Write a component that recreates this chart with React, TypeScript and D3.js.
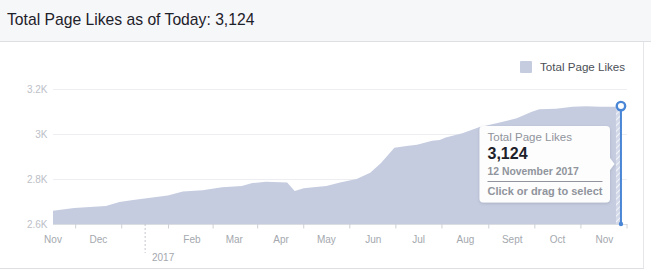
import React from "react";
import * as d3 from "d3";

const dates = [
  "2016-11-01", "2016-11-15", "2016-12-06", "2016-12-15", "2016-12-24",
  "2017-01-02", "2017-01-16", "2017-01-26", "2017-02-08", "2017-02-21",
  "2017-03-06", "2017-03-13", "2017-03-22", "2017-04-05", "2017-04-10",
  "2017-04-16", "2017-04-24", "2017-05-01", "2017-05-10", "2017-05-21",
  "2017-05-30", "2017-06-06", "2017-06-15", "2017-06-23", "2017-06-30",
  "2017-07-10", "2017-07-15", "2017-07-19", "2017-07-30", "2017-08-10",
  "2017-08-23", "2017-09-04", "2017-09-14", "2017-09-19", "2017-09-30",
  "2017-10-11", "2017-10-20", "2017-10-29", "2017-11-09", "2017-11-12",
];
const likes = [
  2659, 2671, 2680, 2698, 2707,
  2714, 2727, 2745, 2750, 2763,
  2769, 2782, 2788, 2785, 2747,
  2759, 2764, 2769, 2784, 2800,
  2828, 2870, 2939, 2947, 2952,
  2970, 2973, 2985, 3003, 3030,
  3050, 3070, 3099, 3110, 3112,
  3121, 3123, 3121, 3121, 3124,
];
const monthStarts = [
  "2016-11-01", "2016-12-01", "2017-01-01", "2017-02-01", "2017-03-01",
  "2017-04-01", "2017-05-01", "2017-06-01", "2017-07-01", "2017-08-01",
  "2017-09-01", "2017-10-01", "2017-11-01", "2017-12-01",
];
const monthLabels = ["Nov", "Dec", "", "Feb", "Mar", "Apr", "May", "Jun", "Jul", "Aug", "Sept", "Oct", "Nov"];
const yearLabel = "2017";
const yearStart = "2017-01-01";
const yTicks = [2600, 2800, 3000, 3200];
const domainStart = "2016-11-01";
const domainEnd = "2017-11-16";
const title = "Total Page Likes as of Today: 3,124";
const seriesName = "Total Page Likes";
const hoverDate = "2017-11-12";
const hoverValue = 3124;
const hoverDateLabel = "12 November 2017";
const hoverHint = "Click or drag to select";

const parse = d3.utcParse("%Y-%m-%d");
const FONT = "'Liberation Sans', Arial, Helvetica, sans-serif";
const AREA = "#c5cce0";
const BLUE = "#4a86d6";

export default function App() {
  const W = 651, H = 270;
  const x = d3.scaleUtc().domain([parse(domainStart)!, parse(domainEnd)!]).range([53, 627]);
  const y = d3.scaleLinear().domain([2600, 3200]).range([224, 89]);
  const data = dates.map((d, i) => ({ date: parse(d)!, v: likes[i] }));
  const area = d3.area<{ date: Date; v: number }>()
    .x((d) => x(d.date))
    .y0(y(2600))
    .y1((d) => y(d.v))
    .curve(d3.curveLinear);
  const fmtK = (v: number) => `${d3.format("~g")(v / 1000)}K`;
  const ms = monthStarts.map((d) => parse(d)!);
  const tickXs = ms.slice(0, -1).map((d, i) => (x(d) + x(ms[i + 1])) / 2);
  const hx = x(parse(hoverDate)!);
  const hy = y(hoverValue);
  const yx = x(parse(yearStart)!);
  const base = y(2600);

  return (
    <svg width={W} height={H} style={{ position: "absolute", left: 0, top: 0 }} fontFamily={FONT}>
      <defs>
        <pattern id="hatch" width="4" height="4" patternUnits="userSpaceOnUse" patternTransform="rotate(45)">
          <rect width="4" height="4" fill="#d3d9e8" />
          <line x1="0" y1="0" x2="0" y2="4" stroke="#ffffff" strokeWidth="1.6" opacity="0.9" />
        </pattern>
        <filter id="shadow" x="-10%" y="-10%" width="120%" height="130%">
          <feDropShadow dx="0" dy="1" stdDeviation="1.5" floodColor="#000" floodOpacity="0.15" />
        </filter>
      </defs>
      <rect x={0} y={0} width={W} height={H} fill="#ffffff" />
      <rect x={0} y={0} width={W} height={41} fill="#f6f7f9" />
      <line x1={0} x2={W} y1={41.5} y2={41.5} stroke="#dddfe2" />
      <line x1={643.5} x2={643.5} y1={42} y2={268} stroke="#e5e6e9" />
      <line x1={0} x2={644} y1={268.5} y2={268.5} stroke="#dddfe2" />
      <text x={7} y={25} fontSize={15.7} fill="#1d2129">{title}</text>

      {/* legend */}
      <rect x={520} y={61} width={12} height={12} rx={1} fill={AREA} />
      <text x={540} y={71} fontSize={11.6} fill="#4b4f56">{seriesName}</text>

      {/* gridlines */}
      {yTicks.map((t) => (
        <g key={t}>
          <line x1={53} x2={627} y1={y(t) + 0.5} y2={y(t) + 0.5} stroke={t === 2600 ? "#dadde1" : "#eceef1"} />
          <text x={47.5} y={y(t) + 3.5} fontSize={10} fill="#bcc0c7" textAnchor="end">{fmtK(t)}</text>
        </g>
      ))}

      <path d={area(data) || ""} fill={AREA} />
      <rect x={hx - 5} y={hy} width={5} height={base - hy} fill="url(#hatch)" />

      {/* x axis */}
      {tickXs.map((tx, i) => (
        <line key={i} x1={tx} x2={tx} y1={base} y2={base + 4.5} stroke="#ccd0d5" />
      ))}
      <line x1={yx} x2={yx} y1={base} y2={253} stroke="#c4c8ce" strokeDasharray="2,2" />
      <text x={152} y={261} fontSize={10} fill="#a4a8ae">{yearLabel}</text>
      {monthLabels.map((m, i) =>
        m ? (
          <text key={i} x={x(ms[i])} y={243} fontSize={10} fill="#a4a8ae" textAnchor="middle">{m}</text>
        ) : null
      )}

      {/* hover marker */}
      <line x1={hx} x2={hx} y1={hy} y2={base} stroke={BLUE} strokeWidth={2} />
      <circle cx={hx} cy={base} r={2.2} fill={BLUE} />
      <circle cx={hx} cy={hy} r={4.2} fill="#ffffff" stroke={BLUE} strokeWidth={2.4} />

      {/* tooltip */}
      <g filter="url(#shadow)">
        <rect x={479.5} y={126} width={130.5} height={76.5} rx={4} fill="#ffffff" opacity={0.96} />
        <path d="M610,158 L614.5,164 L610,170 Z" fill="#ffffff" opacity={0.96} />
      </g>
      <text x={487.5} y={140.7} fontSize={11.5} fill="#90949c">{seriesName}</text>
      <text x={487.5} y={159} fontSize={16} fontWeight="bold" fill="#1d2129">{d3.format(",")(hoverValue)}</text>
      <text x={487.5} y={175} fontSize={10.4} fontWeight="bold" fill="#90949c">{hoverDateLabel}</text>
      <line x1={487.5} x2={602.5} y1={181.5} y2={181.5} stroke="#90949c" />
      <text x={487.5} y={195} fontSize={11} fontWeight="bold" fill="#90949c">{hoverHint}</text>
    </svg>
  );
}
